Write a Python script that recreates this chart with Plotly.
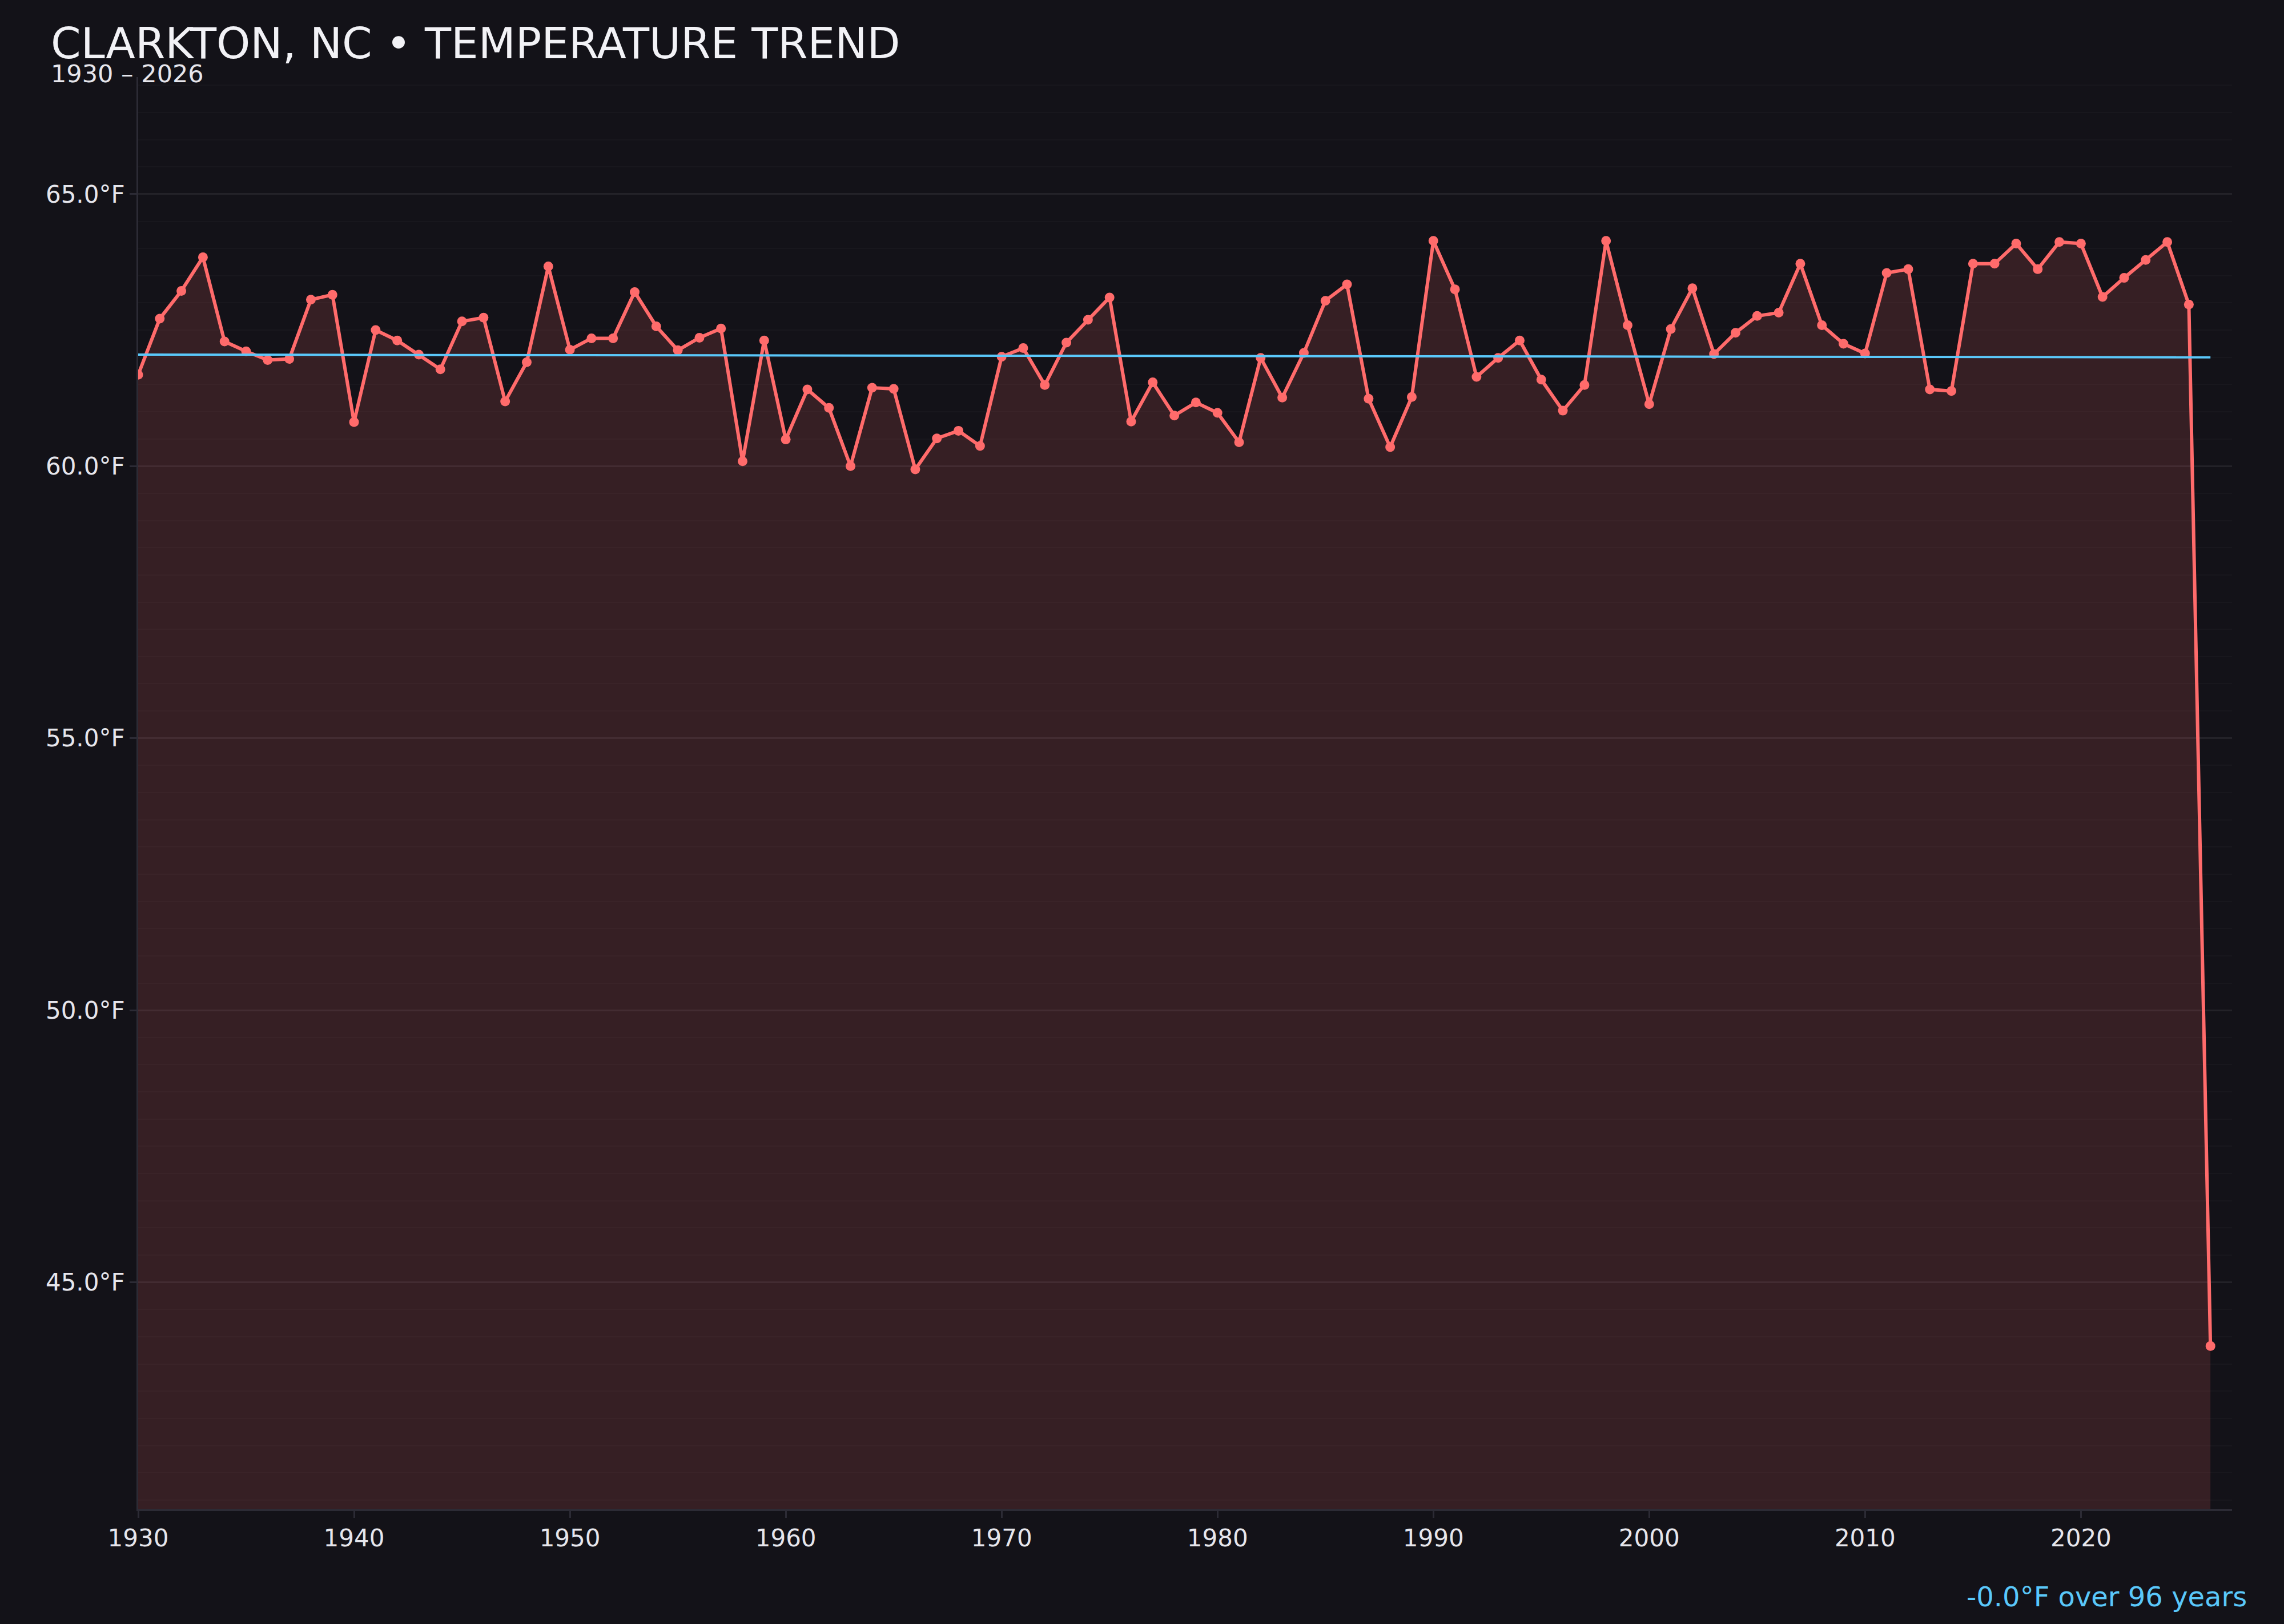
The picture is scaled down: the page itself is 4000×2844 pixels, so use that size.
import plotly.graph_objects as go

# ---------- DATA ----------
years = list(range(1930, 2027))
avg_temp_f = [
    61.68, 62.71, 63.22, 63.84, 62.29, 62.11, 61.95, 61.97, 63.06, 63.15,  # 1930s
    60.81, 62.50, 62.31, 62.05, 61.78, 62.66, 62.73, 61.19, 61.91, 63.67,  # 1940s
    62.14, 62.35, 62.35, 63.20, 62.57, 62.13, 62.36, 62.53, 60.09, 62.31,  # 1950s
    60.49, 61.41, 61.07, 60.00, 61.44, 61.42, 59.94, 60.51, 60.65, 60.37,  # 1960s
    62.01, 62.17, 61.49, 62.27, 62.69, 63.10, 60.82, 61.54, 60.93, 61.17,  # 1970s
    60.98, 60.44, 61.99, 61.26, 62.08, 63.04, 63.34, 61.24, 60.35, 61.27,  # 1980s
    64.14, 63.25, 61.64, 61.99, 62.31, 61.59, 61.02, 61.49, 64.14, 62.59,  # 1990s
    61.14, 62.52, 63.27, 62.06, 62.45, 62.76, 62.82, 63.72, 62.59, 62.25,  # 2000s
    62.07, 63.55, 63.62, 61.41, 61.38, 63.72, 63.72, 64.09, 63.62, 64.12,  # 2010s
    64.09, 63.11, 63.46, 63.79, 64.12, 62.97, 43.83,                      # 2020s
]
trend_years = [1930, 2026]
trend_vals = [62.05, 62.00]

TITLE = "CLARKTON, NC • TEMPERATURE TREND"
SUBTITLE = "1930 – 2026"
TREND_NOTE = "-0.0°F over 96 years"

# ---------- STYLE ----------
BG = "#131218"
RED = "#ff6b6b"
BLUE = "#5ac8fa"
FONT = "DejaVu Sans"
AXIS = "#2c2b35"
TICK_TXT = "#e6e6ec"

fig = go.Figure()

# yearly averages, filled down to the bottom of the plot
fig.add_trace(go.Scatter(
    x=years, y=avg_temp_f,
    mode="lines+markers",
    line=dict(color=RED, width=6),
    marker=dict(color=RED, size=17),
    fill="tozeroy",
    fillcolor="rgba(255,107,107,0.15)",
    showlegend=False,
))

# linear trend
fig.add_trace(go.Scatter(
    x=trend_years, y=trend_vals,
    mode="lines",
    line=dict(color=BLUE, width=4),
    showlegend=False,
))

fig.update_layout(
    width=4000, height=2844,
    paper_bgcolor=BG, plot_bgcolor=BG,
    margin=dict(l=242, r=91, t=135, b=201),
    font=dict(family=FONT, color=TICK_TXT, size=42),
)

fig.update_xaxes(
    range=[1930, 2027], dtick=10, tick0=1930,
    showgrid=False, zeroline=False,
    showline=True, linecolor=AXIS, linewidth=3,
    ticks="outside", ticklen=12, tickwidth=3, tickcolor=AXIS,
    tickfont=dict(size=42, color=TICK_TXT),
)
fig.update_yaxes(
    range=[40.83, 67.15], dtick=5, tick0=45,
    tickformat=".1f", ticksuffix="°F",
    showgrid=True, gridcolor="rgba(255,255,255,0.07)", gridwidth=3,
    minor=dict(dtick=0.5, showgrid=True, gridcolor="rgba(255,255,255,0.025)", gridwidth=2),
    zeroline=False,
    showline=True, linecolor=AXIS, linewidth=3,
    ticks="outside", ticklen=12, tickwidth=3, tickcolor=AXIS,
    tickfont=dict(size=42, color=TICK_TXT),
)

fig.add_annotation(
    text=TITLE, xref="paper", yref="paper", x=-0.0424, y=1.0235,
    xanchor="left", yanchor="middle", showarrow=False,
    font=dict(size=75.4, color="#f2f2f6", family=FONT),
)
fig.add_annotation(
    text=SUBTITLE, xref="paper", yref="paper", x=-0.0424, y=1.0022,
    xanchor="left", yanchor="middle", showarrow=False,
    font=dict(size=43, color=TICK_TXT, family=FONT),
)
fig.add_annotation(
    text=TREND_NOTE, xref="paper", yref="paper", x=1.0076, y=-0.061,
    xanchor="right", yanchor="middle", showarrow=False,
    font=dict(size=48, color=BLUE, family=FONT),
)

# drop the default white page margin around the figure
fig.write_html(
    "out.html",
    config={"displayModeBar": False},
    post_script="document.body.style.margin='0';document.body.style.background='%s';" % BG,
)
